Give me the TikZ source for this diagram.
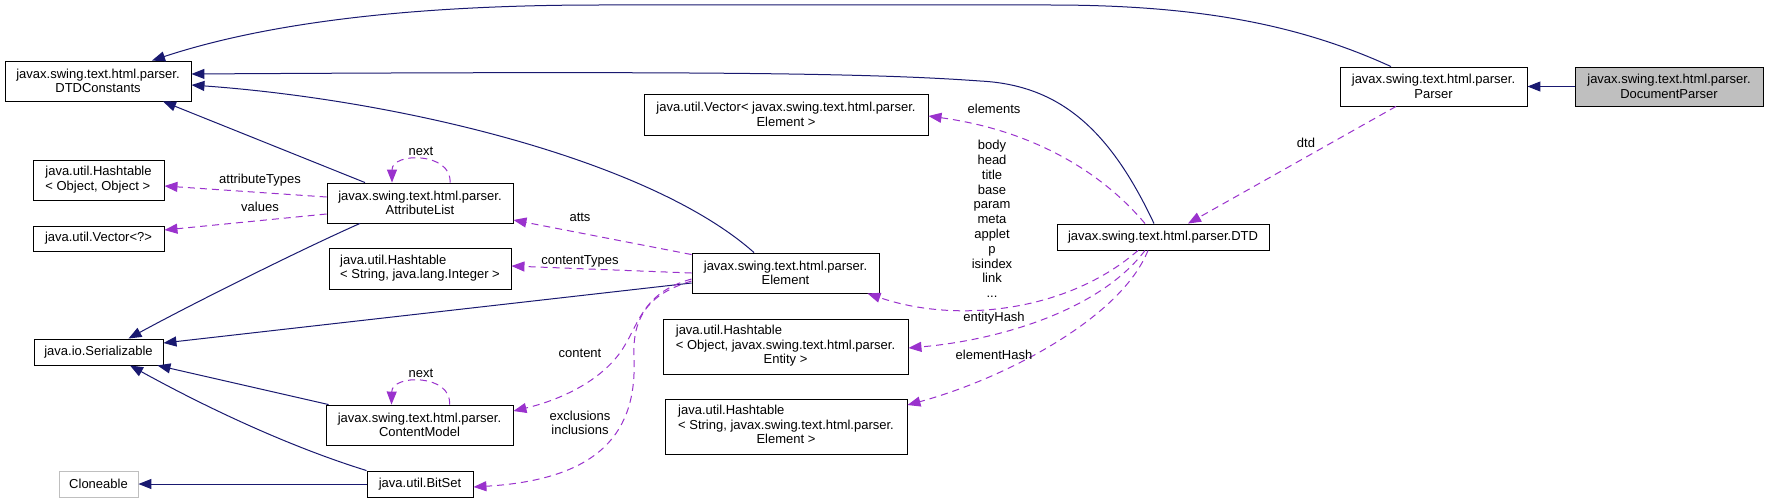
\documentclass[tikz,border=0pt]{standalone}
\usepackage{fontspec}
\setmainfont{Liberation Sans}
\usetikzlibrary{arrows.meta}
\definecolor{inhc}{HTML}{191970}
\definecolor{usec}{HTML}{9A32CD}
\definecolor{grayc}{HTML}{BFBFBF}
\newcommand\fsz{\fontsize{13}{14.5}\selectfont}
\tikzset{
  cls/.style={draw=black, line width=0.9pt, fill=white, inner sep=0pt, align=center, font=\fsz},
  inh/.style={draw=inhc, line width=1pt, -{Triangle[length=13pt,width=10pt]}},
  use/.style={draw=usec, line width=1pt, dash pattern=on 7pt off 5pt, -{Triangle[length=13pt,width=10pt]}},
  lbl/.style={font=\fsz, inner sep=0pt, align=center},
}
\begin{document}
\begin{tikzpicture}[x=1pt,y=-1pt]
\fill[white] (0,0) rectangle (1768,503);
\useasboundingbox (0,0) rectangle (1768,503);

% nodes
\node[cls, minimum width=186pt, minimum height=40pt] (dtdc) at (98,81) {javax.swing.text.html.parser.\\DTDConstants};
\node[cls, minimum width=131pt, minimum height=40pt] (hoo) at (98.5,180) {\begin{tabular}{@{}l@{}}java.util.Hashtable\\< Object, Object >\end{tabular}};
\node[cls, minimum width=186pt, minimum height=40pt] (attr) at (420,203) {javax.swing.text.html.parser.\\AttributeList};
\node[cls, minimum width=131pt, minimum height=25pt] (vecq) at (98.5,238.5) {java.util.Vector<?>};
\node[cls, minimum width=182pt, minimum height=41pt] (hsi) at (420,268.5) {\begin{tabular}{@{}l@{}}java.util.Hashtable\\< String, java.lang.Integer >\end{tabular}};
\node[cls, minimum width=129pt, minimum height=26pt] (ser) at (98.5,352) {java.io.Serializable};
\node[cls, minimum width=187pt, minimum height=40pt] (cm) at (419.5,425) {javax.swing.text.html.parser.\\ContentModel};
\node[cls, draw=grayc, minimum width=79pt, minimum height=26pt] (clone) at (98.5,484) {Cloneable};
\node[cls, minimum width=106pt, minimum height=26pt] (bitset) at (420,484) {java.util.BitSet};
\node[cls, minimum width=187pt, minimum height=40pt] (elem) at (785.5,273) {javax.swing.text.html.parser.\\Element};
\node[cls, minimum width=284pt, minimum height=41pt] (vece) at (786,114.5) {java.util.Vector< javax.swing.text.html.parser.\\Element >};
\node[cls, minimum width=245pt, minimum height=55pt] (hoe) at (785.5,346.5) {\begin{tabular}{@{}l@{}}java.util.Hashtable\\< Object, javax.swing.text.html.parser.\\\multicolumn{1}{@{}c@{}}{Entity >}\end{tabular}};
\node[cls, minimum width=242pt, minimum height=55pt] (hse) at (786,426.5) {\begin{tabular}{@{}l@{}}java.util.Hashtable\\< String, javax.swing.text.html.parser.\\\multicolumn{1}{@{}c@{}}{Element >}\end{tabular}};
\node[cls, minimum width=212pt, minimum height=26pt] (dtd) at (1163,237) {javax.swing.text.html.parser.DTD};
\node[cls, minimum width=187pt, minimum height=39pt] (parser) at (1433.5,86.5) {javax.swing.text.html.parser.\\Parser};
\node[cls, fill=grayc, minimum width=188pt, minimum height=39pt] (docp) at (1669,86.5) {javax.swing.text.html.parser.\\DocumentParser};

% inheritance edges
\draw[inh] (docp.west) -- (parser.east);
\draw[inh] ([xshift=-42.5pt]parser.north) .. controls (1300,25) and (1200,5) .. (1050,5) -- (600,5) .. controls (400,5) and (260,25) .. ([xshift=54pt]dtdc.north);
\draw[inh] ([xshift=-9pt]dtd.north) .. controls (1110,130) and (1060,85) .. (980,81) .. controls (870,73) and (700,71) .. ([yshift=7pt]dtdc.east);
\draw[inh] ([xshift=-31.5pt]elem.north) .. controls (650,160) and (400,100) .. ([yshift=-4pt]dtdc.east);
\draw[inh] ([xshift=-55pt]attr.north) -- ([xshift=65pt]dtdc.south);
\draw[inh] ([xshift=-60pt]attr.south) .. controls (300,250) and (190,305) .. ([xshift=30pt]ser.north);
\draw[inh] ([yshift=-10pt]elem.west) -- ([yshift=9pt]ser.east);
\draw[inh] ([xshift=3pt]cm.north west) -- ([xshift=-6pt]ser.south east);
\draw[inh] (bitset.north west) .. controls (300,450) and (220,415) .. ([xshift=31.5pt]ser.south);
\draw[inh] (bitset.west) -- (clone.east);

% usage edges
\draw[use] ([xshift=-37.5pt]parser.south) -- ([xshift=25pt]dtd.north);
\draw[use] ([xshift=-18pt]dtd.north) .. controls (1100,170) and (1030,130) .. ([yshift=-1.5pt]vece.east);
\draw[use] ([xshift=-25pt]dtd.south) .. controls (1070,310) and (960,325) .. ([xshift=-12pt]elem.south east);
\draw[use] ([xshift=-18pt]dtd.south) .. controls (1100,310) and (1000,340) .. ([yshift=-1.5pt]hoe.east);
\draw[use] ([xshift=-15pt]dtd.south) .. controls (1120,320) and (1000,380) .. ([yshift=21.5pt]hse.east);
\draw[use] ([yshift=-2pt]elem.north west) -- ([yshift=-17pt]attr.east);
\draw[use] (elem.west) -- ([yshift=2.5pt]hsi.east);
\draw[use] ([yshift=6pt]attr.west) -- ([yshift=-6pt]hoo.east);
\draw[use] ([yshift=-11pt]attr.west) -- ([yshift=8.5pt]vecq.east);
\draw[use] ([yshift=-6pt]elem.west) .. controls (645,292) and (640,320) .. (625,345) .. controls (605,380) and (560,400) .. ([yshift=14pt]cm.east);
\draw[use] ([yshift=-8pt]elem.west) .. controls (645,295) and (632,320) .. (634,360) .. controls (637,440) and (590,480) .. ([yshift=-3pt]bitset.east);
\draw[use] ([xshift=30pt]attr.north) .. controls (452,152) and (392,152) .. ([xshift=-28pt]attr.north);
\draw[use] ([xshift=30pt]cm.north) .. controls (452,374) and (392,374) .. ([xshift=-28pt]cm.north);

% labels
\node[lbl] (l1) at (1306,143) {dtd};
\node[lbl] (l2) at (994,109) {elements};
\node[lbl, font=\fontsize{13}{14.8}\selectfont] (l3) at (992,219) {body\\head\\title\\base\\param\\meta\\applet\\p\\isindex\\link\\...};
\node[lbl] (l4) at (994,318) {entityHash};
\node[lbl] (l5) at (994,355) {elementHash};
\node[lbl] (l6) at (580,217) {atts};
\node[lbl] (l7) at (580,261) {contentTypes};
\node[lbl] (l8) at (580,353) {content};
\node[lbl] (l9) at (580,423) {exclusions\\inclusions};
\node[lbl] (l10) at (260,180) {attributeTypes};
\node[lbl] (l11) at (260,207) {values};
\node[lbl] (l12) at (421,151) {next};
\node[lbl] (l13) at (421,373) {next};
\end{tikzpicture}
\end{document}
